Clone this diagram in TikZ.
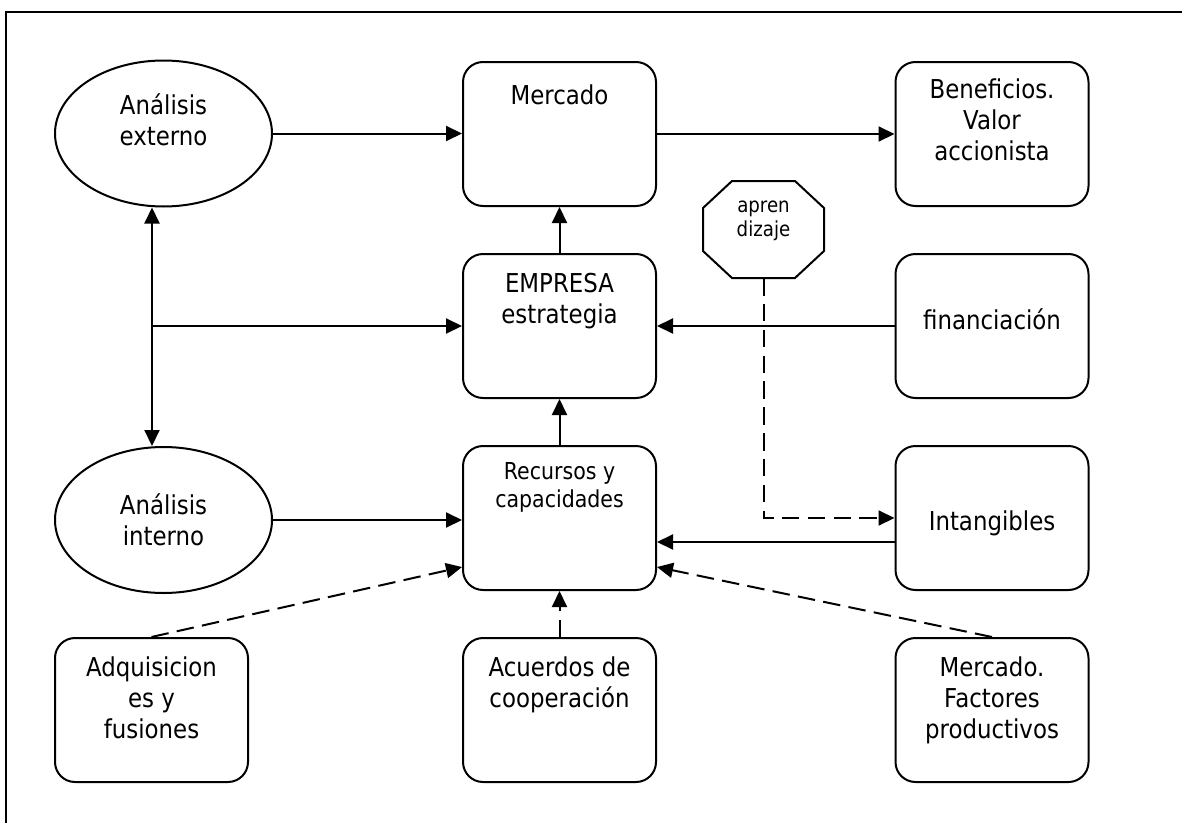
\documentclass[tikz,border=0pt]{standalone}
\usepackage{fontspec}
\setmainfont{DejaVu Sans}[FakeStretch=0.88]
\usetikzlibrary{arrows.meta,shapes.geometric,calc}

\begin{document}
\begin{tikzpicture}[x=0.6pt,y=-0.6pt,
  line width=1.2pt,
  tip/.style={-{Triangle[length=9.6pt,width=9pt]}},
  bidir/.style={{Triangle[length=9.6pt,width=9pt]}-{Triangle[length=9.6pt,width=9pt]}},
  dsh/.style={dash pattern=on 10.5pt off 5pt},
  rbox/.style={draw, rectangle, rounded corners=12pt, minimum width=115.8pt,
    minimum height=86.4pt, inner sep=0pt},
  oval/.style={draw, ellipse, minimum width=130.2pt, minimum height=87.6pt, inner sep=0pt},
  lbl/.style={anchor=north, inner sep=0pt, align=center,
    font=\fontsize{15.6}{18.6}\selectfont, execute at begin node={\rule{0pt}{15pt}}},
  lblsmall/.style={lbl, font=\fontsize{14}{16.8}\selectfont},
  lbltiny/.style={lbl, font=\fontsize{12.4}{14.4}\selectfont},
]
\useasboundingbox (0,0) rectangle (1182,823);

% open frame: top and left edges
\draw (6,823) -- (6,12) -- (1182,12);

% shapes
\node[oval] (ext) at (163.5,133.5) {};
\node[oval] (int) at (163.5,520) {};
\node[rbox] (merc) at (559.5,134) {};
\node[rbox] (benef) at (992,134) {};
\node[rbox] (emp) at (559.5,326) {};
\node[rbox] (fin) at (992,326) {};
\node[rbox] (rec) at (559.5,518) {};
\node[rbox] (intang) at (992,518) {};
\node[rbox] (adq) at (151.5,710) {};
\node[rbox] (acu) at (559.5,710) {};
\node[rbox] (mfp) at (992,710) {};

% octagon "aprendizaje"
\node[rectangle, inner sep=0pt, outer sep=0pt, minimum width=72.6pt,
  minimum height=58.2pt] (apr) at (763.5,229.5) {};
\draw ($(apr.north west)+(29,0)$) -- ($(apr.north east)+(-29,0)$)
  -- ($(apr.north east)+(0,27)$) -- ($(apr.south east)+(0,-27)$)
  -- ($(apr.south east)+(-29,0)$) -- ($(apr.south west)+(29,0)$)
  -- ($(apr.south west)+(0,-27)$) -- ($(apr.north west)+(0,27)$) -- cycle;

% texts
\node[lbl] (ext-t) at (163.5,93) {Análisis\\externo};
\node[lbl] (int-t) at (163.5,493) {Análisis\\interno};
\node[lbl] (merc-t) at (559.5,78) {Mercado};
\node[lbl] (benef-t) at (992,78) {Beneficios.\\Valor\\accionista};
\node[lbl] (emp-t) at (559.5,272) {EMPRESA\\estrategia};
\node[lbl] (fin-t) at (992,303) {financiación};
\node[lblsmall] (rec-t) at (559.5,461) {Recursos y\\capacidades};
\node[lbl] (intang-t) at (992,504) {Intangibles};
\node[lbl] (adq-t) at (151.5,656) {Adquisicion\\es y\\fusiones};
\node[lbl] (acu-t) at (559.5,656) {Acuerdos de\\cooperación};
\node[lbl] (mfp-t) at (992,656) {Mercado.\\Factores\\productivos};
\node[lbltiny] (apr-t) at (763.5,200) {apren\\dizaje};

% connectors
\coordinate (vx) at (152,0);
\draw[tip] (ext.east) -- (ext.east -| merc.west);
\draw[tip] (merc.east) -- (benef.west);
\draw[tip] (emp.north) -- (merc.south);
\draw[tip] (rec.north) -- (emp.south);
\draw[bidir] (ext.south -| vx) -- (int.north -| vx);
\draw[tip] (emp.west -| vx) -- (emp.west);
\draw[tip] (fin.west) -- (emp.east);
\draw[tip] (int.east) -- (int.east -| rec.west);
\draw[tip] ($(intang.west)+(0,24)$) -- ($(rec.east)+(0,24)$);
\draw[dsh,tip] (apr.south) |- (intang.west);
\draw[dsh,tip] (adq.north) -- ($(rec.west)+(0,49)$);
\draw[dsh,tip] (acu.north) -- (rec.south);
\draw[dsh,tip] (mfp.north) -- ($(rec.east)+(0,49)$);
\end{tikzpicture}
\end{document}
